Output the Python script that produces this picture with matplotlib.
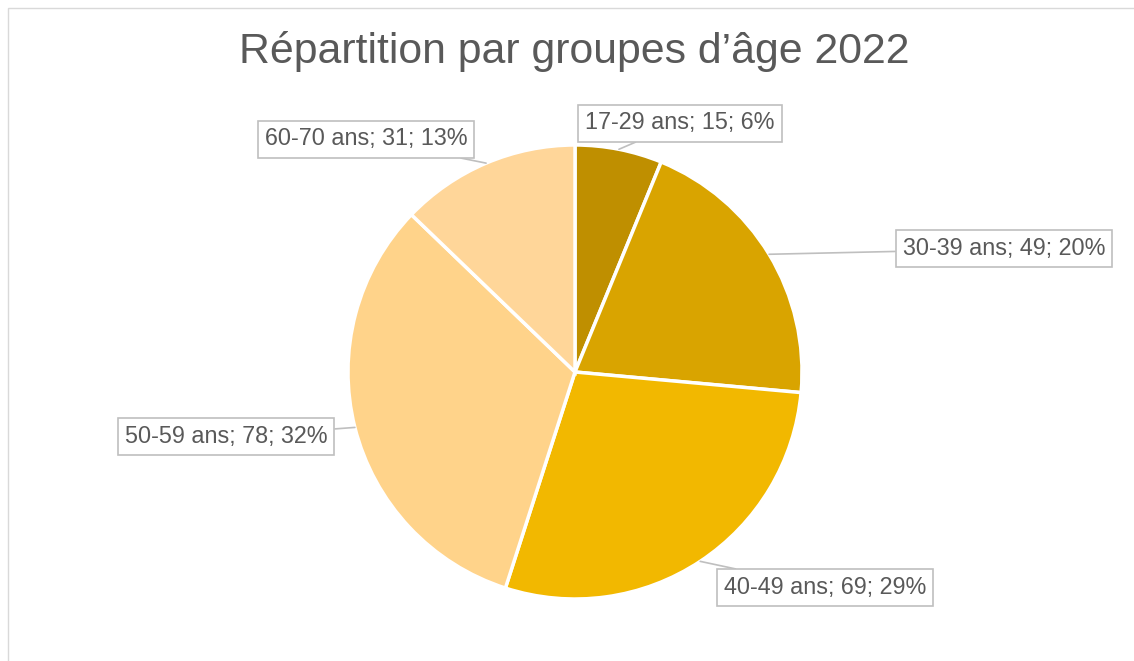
import numpy as np
import matplotlib
matplotlib.use("Agg")
import matplotlib.pyplot as plt
from matplotlib.patches import Rectangle

plt.rcParams["font.family"] = ["Liberation Sans", "DejaVu Sans"]

# ── data ──────────────────────────────────────────────────────────────────────
groups = ["17-29 ans", "30-39 ans", "40-49 ans", "50-59 ans", "60-70 ans"]
counts = [15, 49, 69, 78, 31]
colors = ["#BF8F00", "#D9A400", "#F2B800", "#FFD38A", "#FFD699"]

TITLE = "Répartition par groupes d’âge 2022"
TXT = "#595959"
EDGE = "#BFBFBF"

W, H = 1134, 661
CX, CY, R = 575, 372, 227          # pie centre / radius in pixels

# label box centres (pixels)
LABEL_PX = [(680, 123), (1004, 249), (825, 588), (226, 437), (366, 139)]

fig = plt.figure(figsize=(W / 100, H / 100), dpi=100, facecolor="white")

# light chart-area border
fig.patches.append(Rectangle((8 / W, -0.1), 1.2, (H - 8) / H + 0.1,
                             transform=fig.transFigure, fill=False,
                             ec="#D9D9D9", lw=1.0))

ax = fig.add_axes([(CX - R) / W, (H - CY - R) / H, 2 * R / W, 2 * R / H])
wedges, _ = ax.pie(counts, colors=colors, startangle=90, counterclock=False,
                   wedgeprops=dict(edgecolor="white", linewidth=2.5))
ax.set_xlim(-1, 1); ax.set_ylim(-1, 1)
ax.set_aspect("equal")
ax.axis("off")

total = sum(counts)
for w, g, n, (lx, ly) in zip(wedges, groups, counts, LABEL_PX):
    mid = np.deg2rad((w.theta1 + w.theta2) / 2)
    tip = (np.cos(mid), np.sin(mid))
    txt = f"{g}; {n}; {round(100 * n / total)}%"
    ax.annotate(txt, xy=tip, xycoords="data",
                xytext=((lx - CX) / R, (CY - ly) / R), textcoords="data",
                ha="center", va="center", fontsize=16.8, color=TXT,
                bbox=dict(boxstyle="square,pad=0.3", fc="white", ec=EDGE, lw=1.2),
                arrowprops=dict(arrowstyle="-", color=EDGE, lw=1.2,
                                shrinkA=0, shrinkB=0),
                annotation_clip=False)

fig.text(574 / W, 1 - 51 / H, TITLE, ha="center", va="center",
         fontsize=30.8, color=TXT)

fig.savefig("out.png", dpi=100, facecolor="white")
